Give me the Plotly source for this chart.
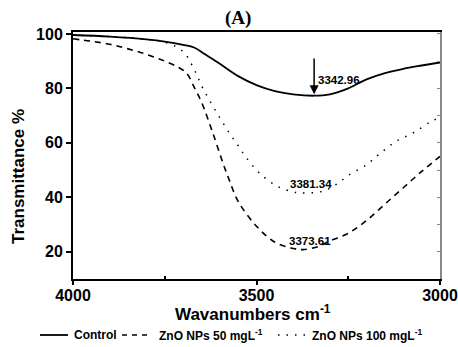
import plotly.graph_objects as go

# Control
wn_ctrl = [4000, 3900, 3800, 3750, 3700, 3670, 3640, 3600, 3550, 3500, 3450, 3400, 3343, 3300, 3250, 3200, 3150, 3100, 3050, 3000]
t_ctrl = [99.6, 99.0, 98.0, 97.2, 96.0, 95.0, 92.5, 89.0, 84.5, 81.2, 79.0, 77.8, 77.3, 77.8, 80.0, 83.3, 85.6, 87.2, 88.4, 89.5]

# ZnO NPs 50 mg/L
wn_50 = [4000, 3950, 3900, 3850, 3800, 3750, 3710, 3690, 3670, 3650, 3620, 3590, 3575, 3550, 3500, 3450, 3400, 3374, 3330, 3300, 3250, 3200, 3150, 3100, 3050, 3000]
t_50 = [98.2, 97.3, 96.2, 94.5, 92.5, 90.0, 87.5, 85.5, 80.5, 75.0, 64.0, 52.0, 46.6, 38.5, 29.4, 23.5, 21.2, 20.8, 22.0, 24.0, 26.8, 31.5, 37.5, 43.5, 49.5, 55.0]

# ZnO NPs 100 mg/L
wn_100 = [4000, 3900, 3800, 3750, 3700, 3670, 3646, 3610, 3575, 3550, 3528, 3488, 3440, 3400, 3381, 3320, 3280, 3250, 3200, 3166, 3120, 3071, 3025, 3000]
t_100 = [99.6, 99.0, 98.0, 97.0, 93.5, 87.0, 80.0, 71.5, 63.8, 59.0, 54.6, 48.4, 43.8, 42.0, 41.6, 42.2, 45.0, 48.0, 52.0, 55.8, 60.5, 63.8, 67.8, 69.3]

series_names = ["Control", "ZnO NPs 50 mgL<sup>-1</sup>", "ZnO NPs 100 mgL<sup>-1</sup>"]
peak_labels = ["3342.96", "3381.34", "3373.61"]
x_ticks = [4000, 3500, 3000]
y_ticks = [20, 40, 60, 80, 100]

styles = [dict(width=1.8, dash="solid"), dict(width=1.6, dash="6px,5px"), dict(width=1.5, dash="1.5px,7px")]

fig = go.Figure()
for wn, tv, nm, st in zip([wn_ctrl, wn_50, wn_100], [t_ctrl, t_50, t_100], series_names, styles):
    fig.add_trace(go.Scatter(x=wn, y=tv, mode="lines", name=nm, showlegend=False,
                             line=dict(color="black", width=st["width"], dash=st["dash"], shape="spline")))
# invisible trace for right axis
fig.add_trace(go.Scatter(x=[4000], y=[50], yaxis="y2", mode="markers", marker=dict(opacity=0),
                         showlegend=False, hoverinfo="skip"))

FONT = "Arial, Liberation Sans"
ann_font = dict(family=FONT, size=11.5, color="black")
fig.add_annotation(x=3275, y=83.2, text="<b>" + peak_labels[0] + "</b>", showarrow=False, font=ann_font)
fig.add_annotation(x=3351, y=44.8, text="<b>" + peak_labels[1] + "</b>", showarrow=False, font=ann_font)
fig.add_annotation(x=3354, y=24.0, text="<b>" + peak_labels[2] + "</b>", showarrow=False, font=ann_font)
fig.add_annotation(x=3343, y=77.8, ax=3343, ay=91.5, axref="x", ayref="y", xref="x", yref="y",
                   text="", showarrow=True, arrowhead=2, arrowsize=1.2, arrowwidth=1.5, arrowcolor="black")

# plot-area geometry in pixels (for placing paper-referenced items)
L, R, T, B, W, H = 73, 18, 32, 68, 458, 347
PW, PH = W - L - R, H - T - B
def px(x): return (x - L) / PW
def py(y): return (H - B - y) / PH

# title and axis titles
fig.add_annotation(xref="paper", yref="paper", x=px(237.5), y=py(18), xanchor="center", yanchor="middle",
                   text="<b>(A)</b>", showarrow=False,
                   font=dict(family="Times New Roman, Liberation Serif", size=19, color="black"))
fig.add_annotation(xref="paper", yref="paper", x=px(253), y=py(313), xanchor="center", yanchor="middle",
                   text="<b>Wavanumbers cm<sup>-1</sup></b>",
                   showarrow=False, font=dict(family=FONT, size=17, color="black"))
fig.add_annotation(xref="paper", yref="paper", x=px(18), y=py(177), xanchor="center", yanchor="middle",
                   text="<b>Transmittance %</b>", textangle=-90,
                   showarrow=False, font=dict(family=FONT, size=17, color="black"))

# manual legend
leg_y = 335
leg_items = [(40, 68, 72), (122, 152, 157), (278, 306, 310)]
for (x0, x1, xt), nm, st in zip(leg_items, series_names, styles):
    fig.add_shape(type="line", xref="paper", yref="paper", x0=px(x0), x1=px(x1), y0=py(leg_y), y1=py(leg_y),
                  line=dict(color="black", width=st["width"], dash=st["dash"] if st["dash"] != "6px,5px" else "5px,5px"))
    fig.add_annotation(xref="paper", yref="paper", x=px(xt), y=py(leg_y), xanchor="left", yanchor="middle",
                       text="<b>" + nm + "</b>", showarrow=False, font=dict(family=FONT, size=12, color="black"))

tick_font = dict(family=FONT, size=16, color="black")
fig.update_layout(
    width=W, height=H,
    margin=dict(l=L, r=R, t=T, b=B, autoexpand=False),
    paper_bgcolor="white", plot_bgcolor="white",
    showlegend=False,
    xaxis=dict(range=[4000, 3000], tickvals=x_ticks, ticktext=["<b>%d</b>" % v for v in x_ticks],
               ticks="outside", ticklen=4, tickwidth=1.5, tickcolor="black", ticklabelstandoff=-3,
               minor=dict(tickvals=[3750, 3250], ticks="inside", ticklen=3, tickcolor="black"),
               showline=True, linecolor="black", linewidth=2, mirror=True, automargin=False,
               showgrid=False, zeroline=False, tickfont=tick_font),
    yaxis=dict(range=[10, 100.7], tickvals=y_ticks, ticktext=["<b>%d</b>" % v for v in y_ticks],
               ticks="outside", ticklen=5, tickwidth=1.5, tickcolor="black",
               showline=True, linecolor="black", linewidth=2, mirror=False, automargin=False,
               showgrid=False, zeroline=False, tickfont=tick_font),
    yaxis2=dict(range=[10, 100.7], overlaying="y", side="right", tickvals=[20, 30, 40, 50, 60, 70, 80, 90, 100],
                ticks="inside", ticklen=3, tickcolor="#888888", showticklabels=False, automargin=False,
                showline=True, linecolor="#888888", linewidth=1.5, showgrid=False, zeroline=False),
)

fig.write_html("out.html")
